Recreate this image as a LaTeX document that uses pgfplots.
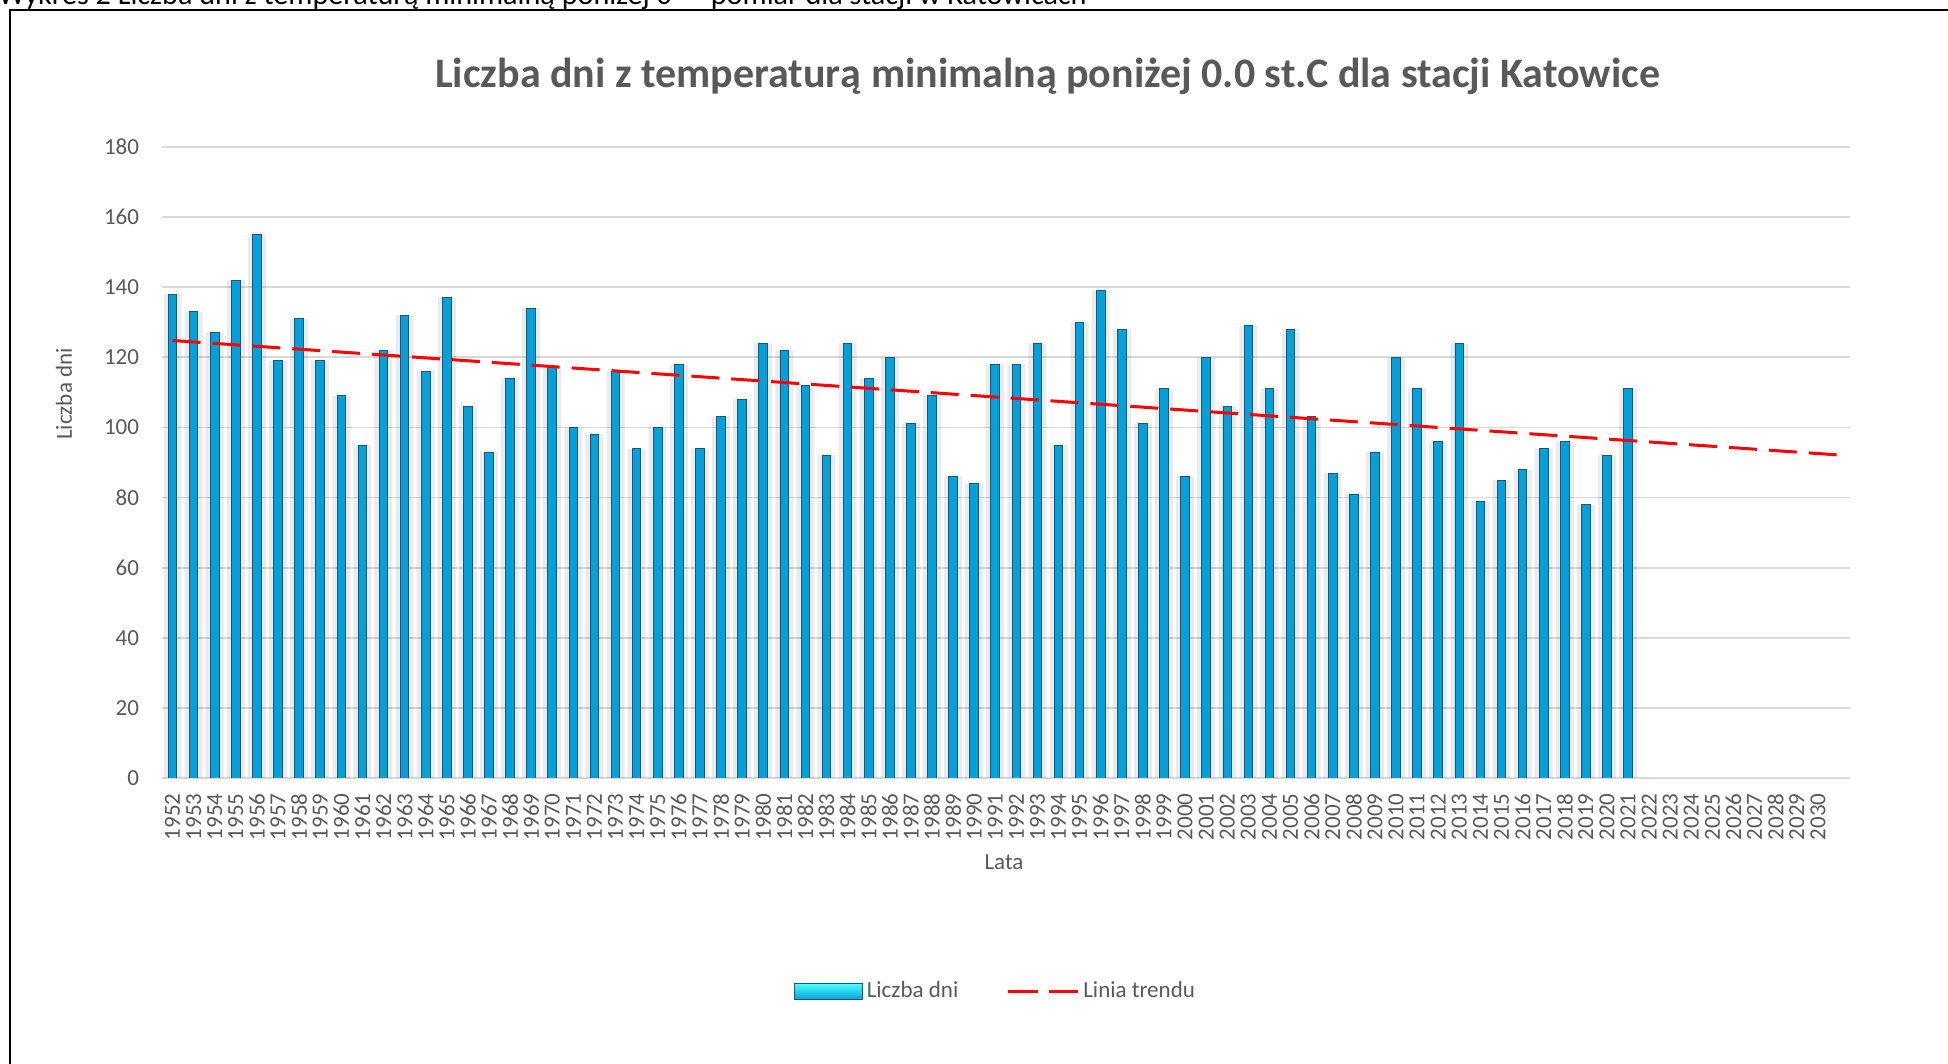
\documentclass[border=0pt]{standalone}
\usepackage{fontspec}
\setmainfont{Carlito}
\usepackage{pgfplots}
\usepackage{pgfplotstable}
\pgfplotsset{compat=1.18}
\definecolor{txt}{HTML}{595959}
\definecolor{gridc}{HTML}{D9D9D9}
\definecolor{barblue}{HTML}{079FD8}
\definecolor{baredge}{HTML}{14587C}
\definecolor{trendc}{HTML}{FF0000}

\pgfplotstableread{
year val
1952 138
1953 133
1954 127
1955 142
1956 155
1957 119
1958 131
1959 119
1960 109
1961 95
1962 122
1963 132
1964 116
1965 137
1966 106
1967 93
1968 114
1969 134
1970 117
1971 100
1972 98
1973 116
1974 94
1975 100
1976 118
1977 94
1978 103
1979 108
1980 124
1981 122
1982 112
1983 92
1984 124
1985 114
1986 120
1987 101
1988 109
1989 86
1990 84
1991 118
1992 118
1993 124
1994 95
1995 130
1996 139
1997 128
1998 101
1999 111
2000 86
2001 120
2002 106
2003 129
2004 111
2005 128
2006 103
2007 87
2008 81
2009 93
2010 120
2011 111
2012 96
2013 124
2014 79
2015 85
2016 88
2017 94
2018 96
2019 78
2020 92
2021 111
}\datatable

\begin{document}
\begin{tikzpicture}
\useasboundingbox (0pt,0pt) rectangle (974pt,532pt);
\begin{scope}
\clip (0pt,0pt) rectangle (974pt,532pt);
\node[anchor=base west, inner sep=0pt, font=\fontsize{15.1}{18}\selectfont, text=black] at (-1pt,529.6pt) {Wykres 2 Liczba dni z temperaturą minimalną poniżej 0° – pomiar dla stacji w Katowicach};
\draw[line width=1.25pt] (5pt,-10pt) -- (5pt,527pt) -- (990pt,527pt);
\end{scope}

\node[font=\bfseries\fontsize{21}{25}\selectfont, text=txt, anchor=base] at (523.8pt,488.3pt) {Liczba dni z temperaturą minimalną poniżej 0.0 st.C dla stacji Katowice};
\node[font=\fontsize{11.5}{14}\selectfont, text=txt, rotate=90] at (32pt,335pt) {Liczba dni};
\node[font=\fontsize{11.5}{14}\selectfont, text=txt] at (502pt,101pt) {Lata};

\begin{axis}[
  at={(81pt,143pt)}, anchor=south west,
  scale only axis, width=843.75pt, height=315.5pt,
  xmin=1951.5, xmax=2031.5, ymin=0, ymax=180,
  xtick={1952,1953,1954,1955,1956,1957,1958,1959,1960,1961,1962,1963,1964,1965,1966,1967,1968,1969,1970,1971,1972,1973,1974,1975,1976,1977,1978,1979,1980,1981,1982,1983,1984,1985,1986,1987,1988,1989,1990,1991,1992,1993,1994,1995,1996,1997,1998,1999,2000,2001,2002,2003,2004,2005,2006,2007,2008,2009,2010,2011,2012,2013,2014,2015,2016,2017,2018,2019,2020,2021,2022,2023,2024,2025,2026,2027,2028,2029,2030},
  ytick={0,20,40,60,80,100,120,140,160,180},
  /pgf/number format/1000 sep={},
  /pgf/number format/precision=0,
  /pgf/number format/fixed,
  /pgf/number format/assume math mode=true,
  axis line style={draw=none},
  tick style={draw=none},
  ymajorgrids, major grid style={gridc, line width=0.85pt},
  tick label style={font=\fontsize{11.5}{14}\selectfont, text=txt},
  xticklabel style={rotate=90, anchor=east, inner sep=0pt},
  xticklabel shift=7.5pt,
  yticklabel style={anchor=east, inner sep=0pt},
  yticklabel shift=11.3pt,
  legend columns=2,
  legend style={at={(0.4945,-0.3380)}, anchor=center, draw=none, fill=none,
    font=\fontsize{11.5}{14}\selectfont, text=txt,
    /tikz/every even column/.append style={column sep=22pt}},
]
\addplot[ybar, bar width=9pt, bar shift=0pt, fill=black, fill opacity=0.08, draw=none, forget plot]
  table[x=year, y=val] {\datatable};
\addplot[ybar, bar width=4.3pt, bar shift=0pt, draw=baredge, line width=0.45pt, fill=barblue,
  legend image code/.code={\draw[draw=baredge, line width=0.4pt, top color=cyan!70, bottom color=barblue] (0pt,-4pt) rectangle (34pt,4pt);}]
  table[x=year, y=val] {\datatable};
\addlegendentry{Liczba dni}
\addplot[trendc, line width=1.5pt, dash pattern=on 14pt off 6pt,
  legend image code/.code={\draw[trendc, line width=1.5pt, dash pattern=on 15pt off 5.5pt] (0pt,0pt) -- (35pt,0pt);}]
  coordinates {(1952,124.8) (2031.1,92.1)};
\addlegendentry{Linia trendu}
\end{axis}
\end{tikzpicture}
\end{document}
